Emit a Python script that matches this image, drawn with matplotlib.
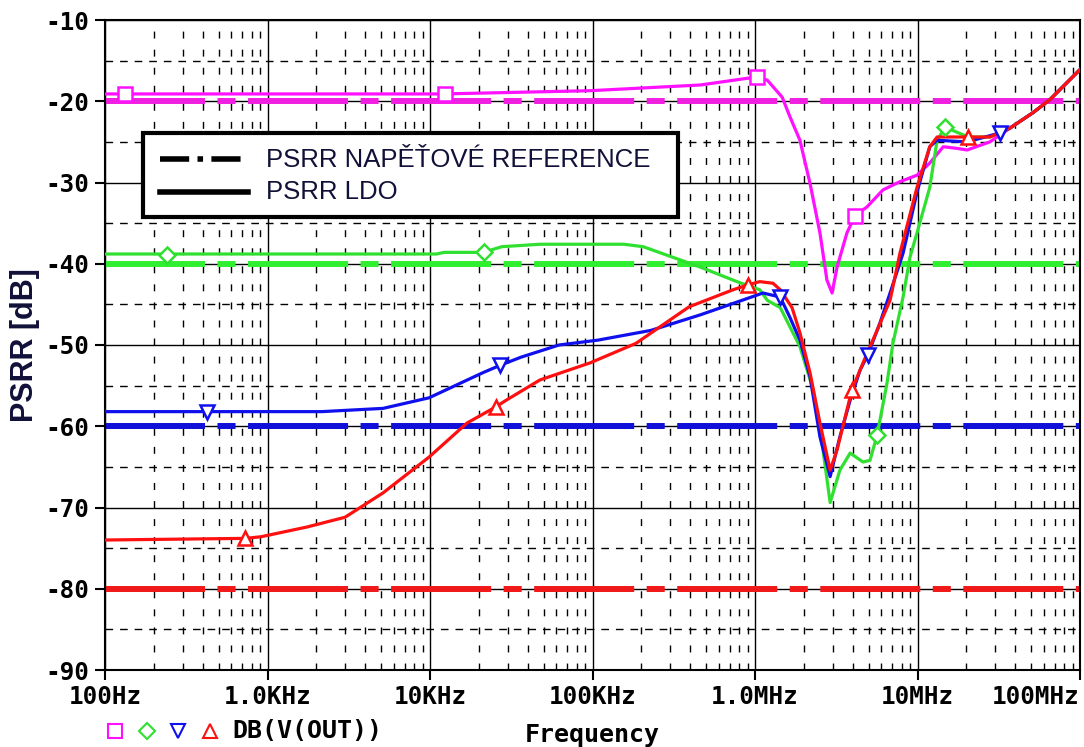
import numpy as np
import matplotlib
matplotlib.use('Agg')
import matplotlib.pyplot as plt
from matplotlib.lines import Line2D
from matplotlib.patches import Rectangle

# PSRR of the voltage reference (dash-dot) and of the LDO (solid), dB vs Hz
ref_levels = [-20, -40, -60, -80]

mag_f  = [100, 1.2e4, 9.7e4, 4.6e5, 1.03e6, 1.19e6, 1.47e6, 1.64e6, 1.89e6, 2.18e6, 2.51e6,
          2.77e6, 2.98e6, 3.2e6, 3.68e6, 4.12e6, 4.89e6, 6.14e6, 7.8e6, 9.93e6, 1.19e7,
          1.44e7, 1.75e7, 2.02e7, 2.79e7, 3.71e7, 5.14e7, 6.53e7, 1e8]
mag_db = [-19.1, -19.1, -18.7, -18.0, -17.0, -17.4, -19.5, -21.9, -24.8, -30.1, -36.2,
          -42.0, -43.6, -40.4, -36.2, -34.1, -33.0, -30.9, -29.9, -29.1, -27.6,
          -25.6, -25.8, -26.0, -25.0, -23.3, -21.4, -19.8, -16.1]

grn_f  = [100, 1.1e4, 1.22e4, 2.12e4, 2.77e4, 4.75e4, 1.56e5, 2.05e5, 4.59e5, 7.74e5, 1.07e6,
          1.19e6, 1.43e6, 1.89e6, 2.28e6, 2.62e6, 2.9e6, 3.33e6, 3.85e6, 4.62e6, 5.1e6,
          5.64e6, 6.49e6, 7.06e6, 8.15e6, 8.99e6, 9.93e6, 1.19e7, 1.32e7, 1.48e7, 2.05e7,
          2.79e7, 3.71e7, 5.14e7, 6.53e7, 1e8]
grn_db = [-38.8, -38.8, -38.6, -38.6, -37.9, -37.6, -37.6, -37.9, -40.4, -42.2, -43.2,
          -44.5, -45.4, -50.2, -55.5, -62.9, -69.4, -65.4, -63.3, -64.4, -64.2,
          -61.1, -54.7, -49.8, -44.1, -39.2, -36.2, -30.6, -24.8, -23.2, -24.4,
          -24.4, -23.3, -21.4, -19.8, -16.1]

blu_f  = [100, 2.16e3, 5.14e3, 9.86e3, 2.12e4, 2.7e4, 3.63e4, 6.22e4, 1.08e5, 2.29e5, 4.59e5,
          1.12e6, 1.43e6, 1.64e6, 1.89e6, 2.18e6, 2.51e6, 2.9e6, 3.33e6, 3.85e6, 4.43e6,
          4.95e6, 5.87e6, 6.78e6, 8.15e6, 9.93e6, 1.19e7, 1.32e7, 2.02e7, 3.22e7, 3.71e7,
          5.14e7, 6.53e7, 1e8]
blu_db = [-58.2, -58.2, -57.8, -56.5, -53.4, -52.5, -51.5, -50.0, -49.4, -48.2, -46.3,
          -43.6, -44.1, -46.6, -49.4, -53.9, -61.3, -66.2, -61.3, -56.8, -53.1,
          -51.2, -47.3, -43.6, -38.7, -31.2, -25.6, -24.8, -25.0, -23.9, -23.3,
          -21.4, -19.8, -16.1]

red_f  = [100, 728, 912, 1.75e3, 3.0e3, 5.14e3, 9.86e3, 1.69e4, 2.55e4, 2.94e4, 4.75e4,
          9.66e4, 1.85e5, 3.93e5, 7.33e5, 9.06e5, 1.07e6, 1.29e6, 1.43e6, 1.69e6, 1.89e6,
          2.18e6, 2.51e6, 2.9e6, 3.2e6, 3.68e6, 3.95e6, 4.62e6, 5.64e6, 6.78e6, 7.8e6,
          9.93e6, 1.19e7, 1.32e7, 2.05e7, 2.79e7, 3.71e7, 5.14e7, 6.53e7, 1e8]
red_db = [-74.0, -73.8, -73.6, -72.4, -71.2, -68.2, -63.8, -59.6, -57.6, -56.8, -54.3,
          -52.2, -49.8, -45.3, -43.2, -42.6, -42.2, -42.4, -43.2, -45.4, -48.5,
          -53.4, -59.6, -65.4, -62.9, -58.0, -55.5, -52.2, -48.2, -44.5, -38.7,
          -30.6, -25.6, -24.4, -24.4, -24.4, -23.3, -21.4, -19.8, -16.1]

# trace symbols as placed by the probe
mag_mk_f  = [133, 1.24e4, 1.03e6, 4.12e6]
mag_mk_db = [-19.1, -19.1, -17.0, -34.1]
grn_mk_f  = [241, 2.15e4, 5.64e6, 1.48e7]
grn_mk_db = [-38.9, -38.6, -61.1, -23.2]
blu_mk_f  = [425, 2.7e4, 1.43e6, 4.95e6, 3.22e7]
blu_mk_db = [-58.2, -52.5, -44.1, -51.2, -23.9]
red_mk_f  = [728, 2.55e4, 9.06e5, 3.95e6, 2.05e7]
red_mk_db = [-73.8, -57.6, -42.6, -55.5, -24.4]

x_ticks  = [1e2, 1e3, 1e4, 1e5, 1e6, 1e7, 1e8]
x_labels = ['100Hz', '1.0KHz', '10KHz', '100KHz', '1.0MHz', '10MHz', '100MHz']
y_ticks  = list(range(-90, -9, 10))

ref_cols = ['#f020e0', '#30ee30', '#1010d8', '#f01818']
sol_cols = ['#ff10ff', '#30e030', '#1010ee', '#ff1010']

plt.rcParams['lines.scale_dashes'] = False
plt.rcParams['font.family'] = 'DejaVu Sans Mono'
plt.rcParams['font.weight'] = 'bold'

W, H = 1084, 747
fig = plt.figure(figsize=(W / 100, H / 100), dpi=100)
ax = fig.add_axes([105 / W, 1 - 670 / H, 975 / W, 650 / H])

def fx(px): return px / W
def fy(py): return 1 - py / H

ax.set_xscale('log')
ax.set_xlim(1e2, 1e8)
ax.set_ylim(-90, -10)

# grid
ax.set_xticks(x_ticks)
ax.set_xticklabels(x_labels)
ax.get_xticklabels()[-1].set_horizontalalignment('right')
ax.set_xticks([m * 10 ** d for d in range(2, 8) for m in range(2, 10)], minor=True)
ax.set_yticks(y_ticks)
ax.set_yticklabels([f'{v:d}' for v in y_ticks])
ax.set_yticks(np.arange(-85, -10, 10), minor=True)
ax.grid(which='major', color='black', lw=1.0, ls='-', zorder=0)
ax.xaxis.grid(which='minor', color='black', lw=1.0, ls=(0, (5, 8)))
ax.yaxis.grid(which='minor', color='black', lw=1.0, ls=(0, (5.5, 5)))
ax.set_axisbelow(True)

ax.tick_params(which='major', length=7, width=1.5, labelsize=17.5, colors='black', pad=4)
ax.tick_params(which='minor', length=0)
for s in ax.spines.values():
    s.set_linewidth(1.5)

# reference (dash-dot) lines
for lvl, c in zip(ref_levels, ref_cols):
    ax.plot([1e2, 1e8], [lvl, lvl], color=c, lw=4.3, ls=(0, (72, 9, 13, 9)),
            solid_capstyle='butt', dash_capstyle='butt', zorder=2)

# LDO traces
traces = [(mag_f, mag_db, mag_mk_f, mag_mk_db, 's'),
          (grn_f, grn_db, grn_mk_f, grn_mk_db, 'D'),
          (blu_f, blu_db, blu_mk_f, blu_mk_db, 'v'),
          (red_f, red_db, red_mk_f, red_mk_db, '^')]
for (f, db, mf, mdb, mk), c in zip(traces, sol_cols):
    ax.plot(f, db, color=c, lw=2.3, zorder=3)
    ax.plot(mf, mdb, ls='none', marker=mk, ms=10 if mk != 'D' else 8, mfc='white',
            mec=c, mew=1.8, zorder=4)

ax.set_ylabel('PSRR [dB]', family='Liberation Sans', weight='bold', fontsize=22,
              color='#101038', labelpad=4)
ax.set_xlabel('Frequency', fontsize=18, weight='bold', labelpad=10)

# legend box
fig.patches.append(Rectangle((fx(143), fy(217)), fx(678) - fx(143), fy(133) - fy(217),
                             transform=fig.transFigure, facecolor='white',
                             edgecolor='black', lw=3, zorder=10))
fig.lines.append(Line2D([fx(160), fx(248)], [fy(159), fy(159)], transform=fig.transFigure,
                        color='black', lw=4, ls=(0, (21, 6, 4, 6)), zorder=11))
fig.lines.append(Line2D([fx(160), fx(248)], [fy(192), fy(192)], transform=fig.transFigure,
                        color='black', lw=4, zorder=11))
fig.text(fx(266), fy(160), 'PSRR NAPĚŤOVÉ REFERENCE', family='Liberation Sans',
         weight='normal', fontsize=18.5, color='#101038', va='center', zorder=12)
fig.text(fx(266), fy(192), 'PSRR LDO', family='Liberation Sans', weight='normal',
         fontsize=18.5, color='#101038', va='center', zorder=12)

# trace legend under the axis
for xp, mk, c in zip([115, 147, 178, 210], ['s', 'D', 'v', '^'], sol_cols):
    fig.lines.append(Line2D([fx(xp)], [fy(731)], transform=fig.transFigure, ls='none',
                            marker=mk, ms=10 if mk != 'D' else 8, mfc='white', mec=c, mew=1.5))
fig.text(fx(232), fy(731), 'DB(V(OUT))', fontsize=18, va='center')

fig.savefig('out.png', dpi=100)
